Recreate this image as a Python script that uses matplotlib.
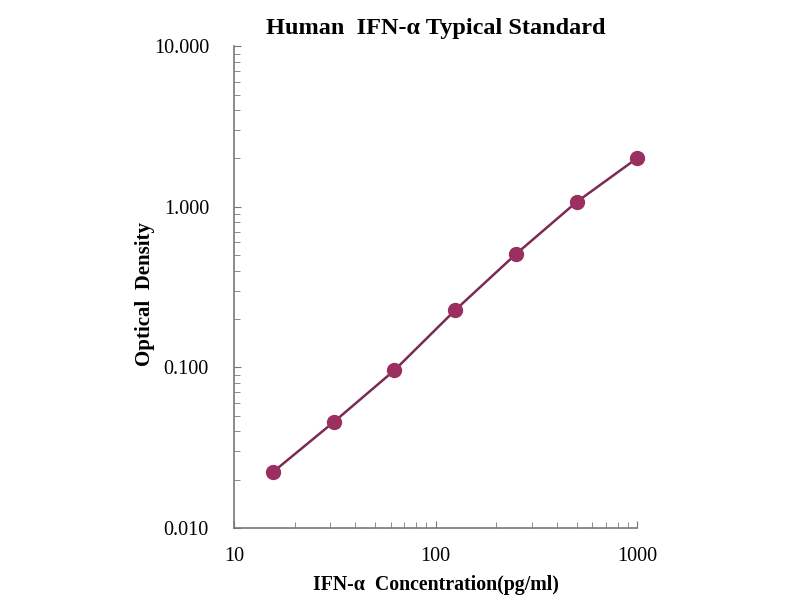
import numpy as np
import matplotlib.pyplot as plt
from matplotlib.ticker import FixedLocator, FixedFormatter, LogLocator, NullFormatter

# Данные стандартной кривой
conc = [15.6, 31.25, 62.5, 125, 250, 500, 1000]
od = [0.0223, 0.0457, 0.096, 0.227, 0.507, 1.07, 2.01]

x_ticks = [10, 100, 1000]
x_labels = ['10', '100', '1000']
y_ticks = [0.01, 0.1, 1, 10]
y_labels = ['0.010', '0.100', '1.000', '10.000']

plt.rcParams['font.family'] = ['Liberation Serif', 'DejaVu Serif']

fig = plt.figure(figsize=(8, 6), dpi=100)
ax = fig.add_axes([0.2925, 0.12, 0.504, 0.803])

ax.plot(conc, od, color='#7a2a55', linewidth=1.8, zorder=2, clip_on=False)
ax.plot(conc, od, 'o', color='#9b2f62', markersize=10, zorder=3, clip_on=False)

ax.set_xscale('log')
ax.set_yscale('log')
ax.set_xlim(10, 1000)
ax.set_ylim(0.01, 10)

ax.xaxis.set_major_locator(FixedLocator(x_ticks))
ax.xaxis.set_major_formatter(FixedFormatter(x_labels))
ax.yaxis.set_major_locator(FixedLocator(y_ticks))
ax.yaxis.set_major_formatter(FixedFormatter(y_labels))
ax.xaxis.set_minor_locator(LogLocator(base=10, subs=np.arange(2, 10)))
ax.yaxis.set_minor_locator(LogLocator(base=10, subs=np.arange(2, 10)))
ax.xaxis.set_minor_formatter(NullFormatter())
ax.yaxis.set_minor_formatter(NullFormatter())

ax.tick_params(which='both', direction='in', color='#777777', labelsize=14.5)
ax.tick_params(which='major', length=5)
ax.tick_params(which='minor', length=4)
ax.tick_params(axis='x', which='major', pad=14)
ax.tick_params(axis='y', which='major', pad=18)

for side in ['top', 'right']:
    ax.spines[side].set_visible(False)
for side in ['left', 'bottom']:
    ax.spines[side].set_color('#777777')
    ax.spines[side].set_linewidth(1.2)

ax.set_title('Human  IFN-α Typical Standard', fontsize=17.5, fontweight='bold', pad=9)
ax.set_xlabel('IFN-α  Concentration(pg/ml)', fontsize=14.3, fontweight='bold', labelpad=6)
ax.set_ylabel('Optical  Density', fontsize=15, fontweight='bold')
ax.yaxis.set_label_coords(-0.196, 0.485)

fig.savefig('out.png', dpi=100)
